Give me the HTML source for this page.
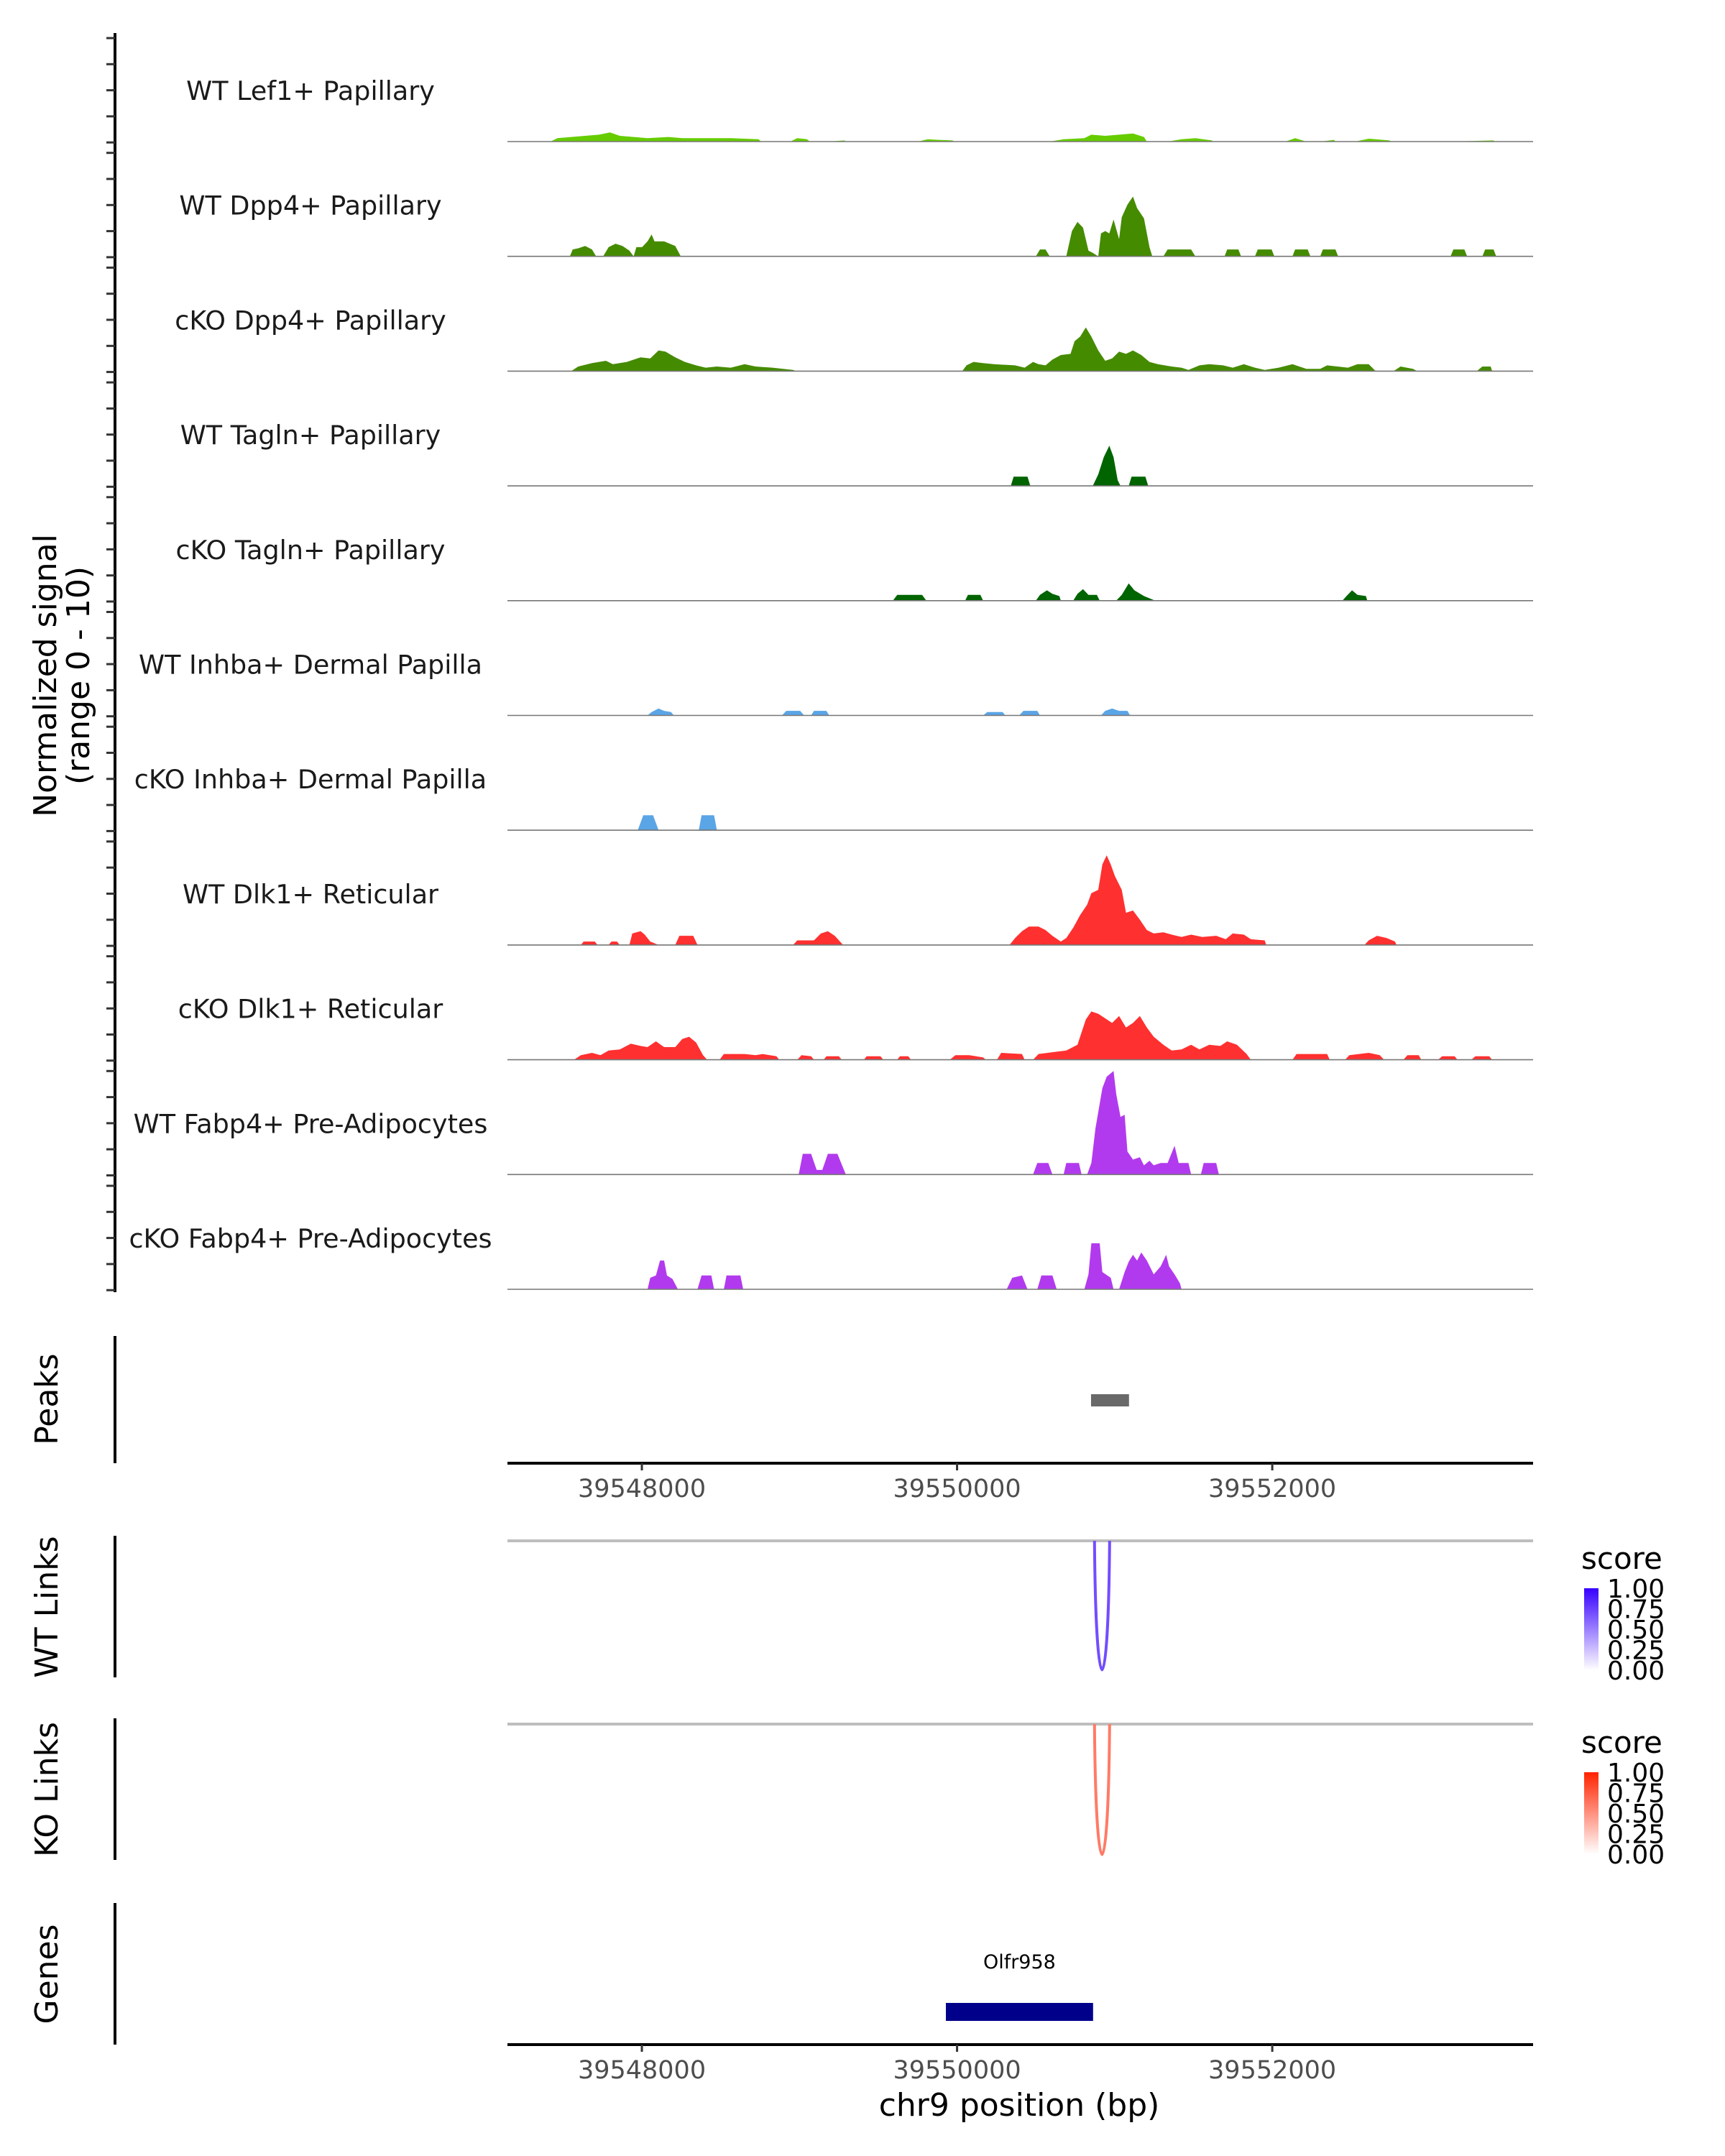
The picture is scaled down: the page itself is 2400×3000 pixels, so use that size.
<!DOCTYPE html>
<html><head><meta charset="utf-8"><title>Coverage plot chr9</title>
<style>
html,body{margin:0;padding:0;background:#fff;}
svg{display:block;font-family:"DejaVu Sans","Liberation Sans",sans-serif;}
</style></head>
<body>
<svg id="chart" xmlns="http://www.w3.org/2000/svg" width="2400" height="3000" viewBox="0 0 2400 3000">
<rect width="2400" height="3000" fill="#fff"/>
<g id="tracks"></g>
<g id="axes"></g>
</svg>
<script>
// ---- data ----
const regionStart = 39547147;
const regionEnd = 39553655;
const trackNames = ["WT Lef1+ Papillary","WT Dpp4+ Papillary","cKO Dpp4+ Papillary","WT Tagln+ Papillary","cKO Tagln+ Papillary","WT Inhba+ Dermal Papilla","cKO Inhba+ Dermal Papilla","WT Dlk1+ Reticular","cKO Dlk1+ Reticular","WT Fabp4+ Pre-Adipocytes","cKO Fabp4+ Pre-Adipocytes"];
const trackColors = ["#66cc00","#458b00","#458b00","#006400","#006400","#5aa5e6","#5aa5e6","#ff3030","#ff3030","#b23aee","#b23aee"];
// positions are bp relative to regionStart; values are normalized signal (0-10)
const pos0 = [273,317,405,493,581,651,713,801,889,1021,1109,1241,1417,1593,1610,1795,1839,1901,1918,2033,2138,2147,2605,2666,2737,2825,2834,3441,3529,3661,3705,3793,3881,3969,4039,4057,4189,4277,4365,4470,4479,4937,4998,5069,5157,5245,5254,5377,5465,5597,5606,5993,6257,6266];
const val0 = [0,0.3,0.4,0.5,0.6,0.8,0.5,0.4,0.3,0.4,0.3,0.3,0.3,0.2,0,0,0.3,0.2,0,0,0.1,0,0,0.2,0.15,0.1,0,0,0.2,0.3,0.6,0.5,0.6,0.7,0.4,0,0,0.2,0.3,0.1,0,0,0.3,0,0,0.15,0,0,0.25,0.1,0,0,0.1,0];
const pos1 = [396,414,449,493,537,563,607,642,686,730,774,801,818,854,889,915,933,994,1065,1100,3353,3379,3414,3441,3546,3582,3617,3652,3687,3714,3749,3766,3793,3819,3846,3881,3898,3934,3969,3995,4039,4074,4092,4162,4189,4338,4365,4550,4567,4638,4655,4743,4761,4849,4866,4981,4998,5078,5095,5157,5174,5254,5271,5984,6002,6072,6090,6186,6204,6257,6274];
const val1 = [0,0.6,0.7,0.9,0.6,0,0,0.8,1.1,0.9,0.5,0,0.8,0.8,1.3,1.9,1.3,1.3,0.9,0,0,0.6,0.6,0,0,2.2,3.0,2.5,0.5,0.3,0,2.0,2.2,2.0,3.2,1.5,3.4,4.5,5.2,4.2,3.3,0.8,0,0,0.6,0.6,0,0,0.6,0.6,0,0,0.6,0.6,0,0,0.6,0.6,0,0,0.6,0.6,0,0,0.6,0.6,0,0,0.6,0.6,0];
const pos2 = [405,449,537,625,669,757,845,906,959,1003,1065,1126,1197,1258,1329,1417,1505,1575,1681,1813,1830,2886,2913,2957,3018,3089,3221,3282,3335,3370,3414,3458,3511,3573,3599,3634,3670,3705,3749,3793,3837,3881,3925,3969,4022,4074,4127,4215,4277,4321,4391,4453,4541,4602,4673,4743,4805,4893,4981,5069,5157,5201,5333,5394,5465,5509,5623,5667,5746,5773,6151,6186,6239,6248];
const val2 = [0,0.4,0.7,0.9,0.6,0.8,1.2,1.1,1.8,1.7,1.2,0.8,0.5,0.3,0.4,0.3,0.6,0.4,0.3,0.1,0,0,0.5,0.8,0.7,0.6,0.5,0.3,0.8,0.6,0.5,1.0,1.4,1.5,2.6,3.0,3.8,3.0,1.8,0.9,1.1,1.7,1.5,1.8,1.4,0.8,0.6,0.4,0.3,0.1,0.5,0.6,0.5,0.3,0.6,0.3,0.1,0.3,0.6,0.2,0.2,0.5,0.3,0.6,0.6,0,0,0.4,0.2,0,0,0.4,0.4,0];
const pos3 = [3194,3212,3300,3318,3714,3749,3784,3819,3846,3872,3890,3942,3960,4048,4066];
const val3 = [0,0.8,0.8,0,0,1.0,2.5,3.5,2.5,0.5,0,0,0.8,0.8,0];
const pos4 = [2446,2473,2631,2658,2904,2922,3001,3018,3353,3379,3423,3458,3502,3511,3590,3617,3652,3687,3740,3758,3863,3898,3942,3978,4039,4110,5298,5324,5359,5394,5447,5456];
const val4 = [0,0.5,0.5,0,0,0.5,0.5,0,0,0.5,0.9,0.6,0.4,0,0,0.6,1.0,0.5,0.5,0,0,0.5,1.5,0.9,0.4,0,0,0.4,0.9,0.5,0.4,0];
const pos5 = [889,915,959,994,1038,1056,1742,1769,1857,1883,1927,1945,2024,2042,3018,3045,3142,3159,3247,3274,3362,3379,3766,3793,3837,3881,3934,3951];
const val5 = [0,0.3,0.6,0.4,0.3,0,0,0.4,0.4,0,0,0.4,0.4,0,0,0.3,0.3,0,0,0.4,0.4,0,0,0.4,0.6,0.4,0.4,0];
const pos6 = [827,862,924,959,1214,1232,1311,1329];
const val6 = [0,1.3,1.3,0,0,1.3,1.3,0];
const pos7 = [466,484,554,572,642,660,695,713,774,792,845,871,906,959,1065,1091,1179,1206,1813,1839,1945,1989,2033,2077,2130,3186,3221,3265,3309,3370,3414,3458,3511,3546,3590,3634,3678,3705,3749,3775,3802,3828,3854,3898,3925,3969,4013,4057,4101,4162,4215,4277,4338,4409,4497,4558,4602,4673,4717,4805,4814,5438,5465,5518,5579,5632,5641];
const val7 = [0,0.3,0.3,0,0,0.3,0.3,0,0,1.0,1.2,0.9,0.3,0,0,0.8,0.8,0,0,0.4,0.4,1.0,1.2,0.8,0,0,0.6,1.2,1.6,1.6,1.3,0.8,0.3,0.6,1.5,2.6,3.5,4.5,4.8,7.0,7.8,7.0,6.0,4.8,2.8,3.0,2.2,1.3,1.0,1.1,0.9,0.7,0.9,0.7,0.8,0.5,1.0,0.9,0.5,0.4,0,0,0.4,0.8,0.6,0.3,0];
const pos8 = [422,466,537,590,642,713,783,845,889,942,994,1065,1109,1153,1197,1241,1267,1346,1373,1505,1575,1619,1707,1725,1839,1866,1927,1945,2006,2024,2103,2121,2262,2279,2367,2385,2473,2490,2543,2561,2807,2842,2930,3018,3036,3106,3133,3265,3282,3335,3370,3485,3546,3617,3670,3705,3749,3793,3837,3881,3925,3969,4013,4057,4101,4162,4215,4277,4338,4391,4453,4523,4567,4629,4690,4717,4981,5007,5201,5218,5315,5342,5465,5535,5562,5685,5711,5782,5799,5905,5931,6010,6028,6116,6142,6230,6248];
const val8 = [0,0.4,0.6,0.4,0.8,0.9,1.4,1.2,1.1,1.6,1.1,1.1,1.8,2.0,1.5,0.4,0,0,0.5,0.5,0.4,0.5,0.3,0,0,0.4,0.3,0,0,0.3,0.3,0,0,0.3,0.3,0,0,0.3,0.3,0,0,0.4,0.4,0.2,0,0,0.6,0.5,0,0,0.5,0.7,0.8,1.3,3.5,4.2,4.0,3.6,3.2,3.8,2.8,3.2,3.8,2.8,2.0,1.3,0.8,0.9,1.3,0.9,1.3,1.2,1.6,1.3,0.5,0,0,0.5,0.5,0,0,0.4,0.6,0.4,0,0,0.4,0.4,0,0,0.3,0.3,0,0,0.3,0.3,0];
const pos9 = [1848,1874,1927,1962,1998,2033,2094,2147,3335,3362,3432,3458,3529,3546,3626,3643,3678,3705,3731,3775,3802,3846,3863,3890,3916,3934,3969,4013,4039,4074,4101,4145,4189,4233,4259,4321,4338,4400,4418,4497,4514];
const val9 = [0,1.8,1.8,0.4,0.4,1.8,1.8,0,0,1.0,1.0,0,0,1.0,1.0,0,0,1.0,4.0,7.5,8.5,9.0,7.0,5.0,5.2,2.0,1.3,1.5,0.8,1.2,0.8,1.0,1.0,2.5,1.0,1.0,0,0,1.0,1.0,0];
const pos10 = [889,906,942,968,994,1012,1047,1082,1206,1232,1294,1311,1373,1390,1478,1496,3168,3203,3265,3300,3362,3388,3458,3485,3661,3687,3705,3758,3775,3828,3846,3881,3916,3942,3969,3995,4022,4057,4101,4145,4180,4198,4233,4268,4277];
const val10 = [0,1.0,1.2,2.5,2.5,1.2,0.9,0,0,1.2,1.2,0,0,1.2,1.2,0,0,1.0,1.2,0,0,1.2,1.2,0,0,1.3,4.0,4.0,1.5,1.0,0,0,1.5,2.4,3.0,2.5,3.2,2.5,1.3,2.0,3.0,2.0,1.3,0.5,0];
const trackPos = [pos0,pos1,pos2,pos3,pos4,pos5,pos6,pos7,pos8,pos9,pos10];
const trackVal = [val0,val1,val2,val3,val4,val5,val6,val7,val8,val9,val10];
const xTicks = [39548000, 39550000, 39552000];
const xTickLabels = ["39548000","39550000","39552000"];
const peakStart = [39550850];
const peakEnd = [39551091];
const wtLinkStart = [39550872], wtLinkEnd = [39550968], wtLinkScore = [0.7];
const koLinkStart = [39550872], koLinkEnd = [39550968], koLinkScore = [0.6];
const geneNames = ["Olfr958"];
const geneStart = [39549929];
const geneEnd = [39550863];
const legendTicks = [1.00, 0.75, 0.50, 0.25, 0.00];

// ---- layout ----
const NS = "http://www.w3.org/2000/svg";
const plotL = 706, plotR = 2133;
const x = bp => plotL + (bp - regionStart) / (regionEnd - regionStart) * (plotR - plotL);
const firstBase = 197, trackStep = 159.7, unitPx = 16;
const yVal = (i, v) => firstBase + i * trackStep - v * unitPx;
function mk(tag, attrs, parent, text) {
  const e = document.createElementNS(NS, tag);
  for (const k in attrs) e.setAttribute(k, attrs[k]);
  if (text !== undefined) e.textContent = text;
  parent.appendChild(e);
  return e;
}
const tracksG = document.getElementById('tracks');
const axesG = document.getElementById('axes');

trackNames.forEach((name, i) => {
  const base = firstBase + i * trackStep;
  const g = mk('g', {}, tracksG);
  
  
  const ps = trackPos[i], vs = trackVal[i];
  let pts = [];
  for (let j = 0; j < ps.length; j++) pts.push(x(regionStart + ps[j]).toFixed(1) + ',' + yVal(i, vs[j]).toFixed(1));
  const area = mk('polygon', {points: x(regionStart + ps[0]).toFixed(1) + ',' + base + ' ' + pts.join(' ') + ' ' + x(regionStart + ps[ps.length - 1]).toFixed(1) + ',' + base, fill: trackColors[i], stroke: 'none'}, g);
  
  
  const bl = mk('line', {x1: plotL, x2: plotR, y1: base, y2: base, stroke: '#777', 'stroke-width': 1.6}, g);
  
  
  const lab = mk('text', {x: 432, y: base - 58, 'text-anchor': 'middle', 'font-size': 36.5, fill: '#1a1a1a'}, g, name);
  
  
});

// left signal axis
const ax = mk('line', {x1: 160, x2: 160, y1: 46, y2: 1798, stroke: '#000', 'stroke-width': 4}, axesG);


for (let i = 0; i < 11; i++) for (let k = 0; k < 5; k++) {
  const ty = 53 + i * trackStep + k * 36.3;
  const t = mk('line', {x1: 148, x2: 160, y1: ty, y2: ty, stroke: '#333', 'stroke-width': 3}, axesG);
  
  
}
const yt = mk('text', {transform: 'translate(78,940) rotate(-90)', 'text-anchor': 'middle', 'font-size': 44, fill: '#000'}, axesG);


mk('tspan', {x: 0, y: 0}, yt, 'Normalized signal');
mk('tspan', {x: 0, y: 46}, yt, '(range 0 - 10)');

function sideAxis(name, y1, y2, title, cy) {
  const l = mk('line', {x1: 160, x2: 160, y1: y1, y2: y2, stroke: '#000', 'stroke-width': 4}, axesG);
  
  
  const t = mk('text', {transform: 'translate(80,' + cy + ') rotate(-90)', 'text-anchor': 'middle', 'font-size': 44, fill: '#000'}, axesG, title);
  
  
}
sideAxis('peaks', 1859, 2036, 'Peaks', 1947);
sideAxis('wt-links', 2137, 2334, 'WT Links', 2236);
sideAxis('ko-links', 2391, 2588, 'KO Links', 2490);
sideAxis('genes', 2648, 2845, 'Genes', 2747);

function xAxis(name, y) {
  const l = mk('line', {x1: plotL, x2: plotR, y1: y, y2: y, stroke: '#000', 'stroke-width': 4}, axesG);
  
  
  xTicks.forEach((t, i) => {
    const tk = mk('line', {x1: x(t), x2: x(t), y1: y, y2: y + 10, stroke: '#333', 'stroke-width': 3}, axesG);
    
    
    const tl = mk('text', {x: x(t), y: y + 47, 'text-anchor': 'middle', 'font-size': 35, fill: '#4d4d4d'}, axesG, xTickLabels[i]);
    
    
  });
}
xAxis('peaks-x-axis', 2036);
xAxis('x-axis', 2845);
const xt = mk('text', {x: 1418, y: 2944, 'text-anchor': 'middle', 'font-size': 44, fill: '#000'}, axesG, 'chr9 position (bp)');



// peaks
peakStart.forEach((s, i) => {
  const r = mk('rect', {x: x(s), y: 1940, width: x(peakEnd[i]) - x(s), height: 17, fill: '#696969'}, axesG);
  
  
});

// links
function links(name, topY, depth, starts, ends, scores, hi, legendY) {
  const gl = mk('line', {x1: plotL, x2: plotR, y1: topY, y2: topY, stroke: '#bebebe', 'stroke-width': 4}, axesG);
  
  
  starts.forEach((s, i) => {
    const a = x(s), b = x(ends[i]);
    const col = hi(scores[i]);
    const p = mk('path', {d: `M${a},${topY} C${a + 2},${topY + depth * 1.33} ${b - 2},${topY + depth * 1.33} ${b},${topY}`, fill: 'none', stroke: col, 'stroke-width': 4}, axesG);
    
    
  });
  const lt = mk('text', {x: 2200, y: legendY, 'font-size': 42, fill: '#000'}, axesG, 'score');
  
  
  const barTop = legendY + 27, barH = 114;
  const gid = name + '-grad';
  const defs = mk('defs', {}, axesG);
  const lg = mk('linearGradient', {id: gid, x1: 0, y1: 0, x2: 0, y2: 1}, defs);
  mk('stop', {offset: 0, 'stop-color': hi(1)}, lg);
  mk('stop', {offset: 1, 'stop-color': hi(0)}, lg);
  const bar = mk('rect', {x: 2204, y: barTop, width: 20, height: barH, fill: `url(#${gid})`}, axesG);
  
  
  legendTicks.forEach((v) => {
    const yy = barTop + (1 - v) * barH;
    const tl = mk('text', {x: 2236, y: yy + 13, 'font-size': 36, fill: '#000'}, axesG, v.toFixed(2));
    
    
  });
}
const blueScale = s => `rgb(${Math.round(255 - 200 * s)},${Math.round(255 - 255 * s)},255)`;
const redScale = s => `rgb(255,${Math.round(255 - 220 * s)},${Math.round(255 - 255 * s)})`;
links('wt-links', 2144, 180, wtLinkStart, wtLinkEnd, wtLinkScore, blueScale, 2183);
links('ko-links', 2399, 182, koLinkStart, koLinkEnd, koLinkScore, redScale, 2439);

// genes
geneNames.forEach((g, i) => {
  const r = mk('rect', {x: x(geneStart[i]), y: 2787, width: x(geneEnd[i]) - x(geneStart[i]), height: 25, fill: '#00008b'}, axesG);
  
  
  const t = mk('text', {x: (x(geneStart[i]) + x(geneEnd[i])) / 2, y: 2739, 'text-anchor': 'middle', 'font-size': 27, fill: '#000'}, axesG, g);
  
  
});
</script>
</body></html>
